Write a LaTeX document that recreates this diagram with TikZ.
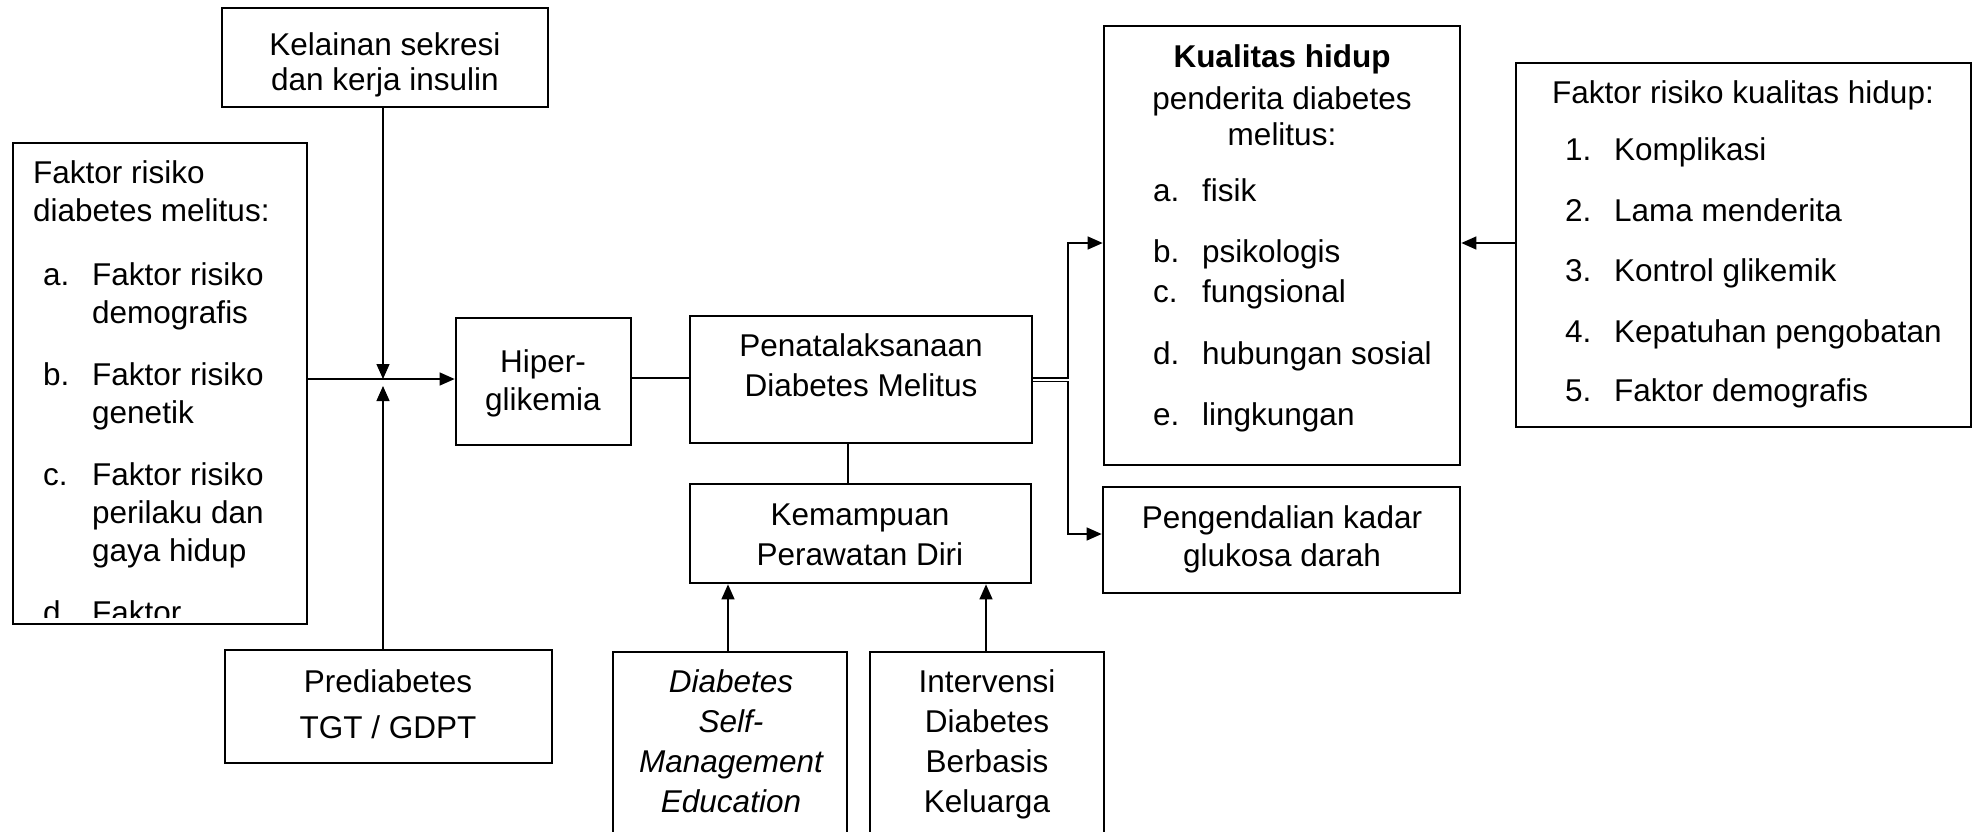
\documentclass[tikz,border=0pt]{standalone}
\usepackage{fontspec}
\setmainfont{Liberation Sans}
\usetikzlibrary{arrows.meta}
\newcommand\mlc[2]{\fontsize{31.5}{#1}\selectfont\begin{tabular}[t]{@{}c@{}}#2\end{tabular}}
\newcommand\mll[2]{\fontsize{31.5}{#1}\selectfont\begin{tabular}[t]{@{}l@{}l@{}}#2\end{tabular}}
\newcommand\lab[1]{\makebox[49pt][l]{#1}}
\begin{document}
\begin{tikzpicture}[x=1pt,y=-1pt,
  box/.style={draw, line width=2.7pt, inner sep=0pt},
  txt/.style={inner sep=0pt, anchor=base},
  txtl/.style={inner sep=0pt, anchor=base west},
  conn/.style={line width=1.3pt},
  arr/.style={conn, -{Triangle[length=15pt,width=13pt]}}]
\useasboundingbox (0,0) rectangle (1974,831);
\clip (0,0) rectangle (1974,831);

% frames
\node[box, minimum width=326pt, minimum height=99pt] (kel) at (385,57.5) {};
\node[box, minimum width=294pt, minimum height=481pt] (left) at (160,383.5) {};
\node[box, minimum width=327pt, minimum height=113pt] (pre) at (388.5,706.5) {};
\node[box, minimum width=175pt, minimum height=127pt] (hip) at (543.5,381.5) {};
\node[box, minimum width=342pt, minimum height=127pt] (pen) at (861,379.5) {};
\node[box, minimum width=341pt, minimum height=99pt] (kem) at (860.5,533.5) {};
\node[box, minimum width=234pt, minimum height=248pt] (dsme) at (730,776) {};
\node[box, minimum width=234pt, minimum height=248pt] (intv) at (987,776) {};
\node[box, minimum width=356pt, minimum height=439pt] (kual) at (1282,245.5) {};
\node[box, minimum width=357pt, minimum height=106pt] (peng) at (1281.5,540) {};
\node[box, minimum width=455pt, minimum height=364pt] (fak) at (1743.5,245) {};

% texts
\node[txt] (kelt) at (385,55) {\mlc{35}{Kelainan sekresi\\dan kerja insulin}};
\begin{scope}
\clip (13,143) rectangle (307,617);
\node[txtl] (leftt) at (33,183) {\mll{38}{\multicolumn{2}{@{}l@{}}{Faktor risiko}\\
\multicolumn{2}{@{}l@{}}{diabetes melitus:}\\[26pt]
\hspace{10pt}\lab{a.}&Faktor risiko\\ &demografis\\[24pt]
\hspace{10pt}\lab{b.}&Faktor risiko\\ &genetik\\[24pt]
\hspace{10pt}\lab{c.}&Faktor risiko\\ &perilaku dan\\ &gaya hidup\\[24pt]
\hspace{10pt}\lab{d.}&Faktor}};
\end{scope}
\node[txt] (pret) at (388,692) {\mlc{46}{Prediabetes\\TGT / GDPT}};
\node[txt] (hipt) at (543,372) {\mlc{38}{Hiper-\\glikemia}};
\node[txt] (pent) at (861,356) {\mlc{40}{Penatalaksanaan\\Diabetes Melitus}};
\node[txt] (kemt) at (860,525) {\mlc{40}{Kemampuan\\Perawatan Diri}};
\node[txt] (dsmet) at (731,692) {\mlc{40}{\itshape Diabetes\\\itshape Self-\\\itshape Management\\\itshape Education}};
\node[txt] (intvt) at (987,692) {\mlc{40}{Intervensi\\Diabetes\\Berbasis\\Keluarga}};
\node[txt] (kualh) at (1282,67) {\mlc{36}{\bfseries Kualitas hidup\\[6pt]penderita diabetes\\melitus:}};
\node[txtl] (kuali) at (1153,201) {\mll{40}{\lab{a.}&fisik\\[21pt]
\lab{b.}&psikologis\\
\lab{c.}&fungsional\\[22pt]
\lab{d.}&hubungan sosial\\[21pt]
\lab{e.}&lingkungan}};
\node[txt] (pengt) at (1282,528) {\mlc{38}{Pengendalian kadar\\glukosa darah}};
\node[txt] (fakh) at (1743,103) {\mlc{38}{Faktor risiko kualitas hidup:}};
\node[txtl] (faki) at (1565,160) {\mll{40}{\lab{1.}&Komplikasi\\[21pt]
\lab{2.}&Lama menderita\\[20pt]
\lab{3.}&Kontrol glikemik\\[21pt]
\lab{4.}&Kepatuhan pengobatan\\[19pt]
\lab{5.}&Faktor demografis}};

% connector coordinates
\coordinate (jn) at (383,379);
\coordinate (jn2) at (383,386);
\coordinate (pk) at (848,0);
\coordinate (d1) at (728,0);
\coordinate (d2) at (986,0);
\coordinate (o1) at (0,378);
\coordinate (o2) at (0,381.5);
\coordinate (s1) at (1068,243);
\coordinate (s2) at (1068,534);

% connectors
\draw[arr] (kel.south -| jn) -- (jn);
\draw[arr] (pre.north -| jn2) -- (jn2);
\draw[arr] (left.east |- jn) -- (hip.west |- jn);
\draw[conn] (hip.east |- o1) -- (pen.west |- o1);
\draw[conn] (pen.south -| pk) -- (kem.north -| pk);
\draw[arr] (dsme.north -| d1) -- (kem.south -| d1);
\draw[arr] (intv.north -| d2) -- (kem.south -| d2);
\draw[arr] (pen.east |- o1) -| (s1) -- (kual.west |- s1);
\draw[arr] (pen.east |- o2) -| (s2) -- (peng.west |- s2);
\draw[arr] (fak.west |- s1) -- (kual.east |- s1);
\end{tikzpicture}
\end{document}
